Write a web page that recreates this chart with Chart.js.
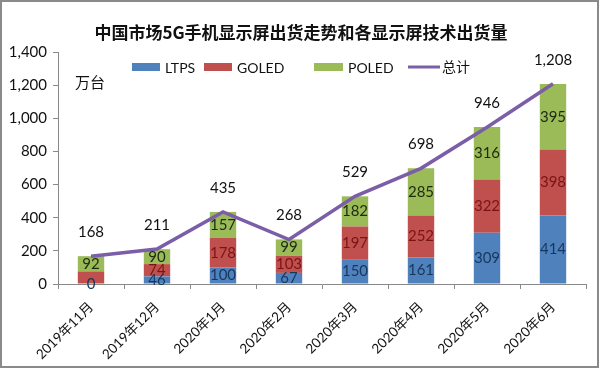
<!DOCTYPE html>
<html>
<head>
<meta charset="utf-8">
<script src="https://cdn.jsdelivr.net/npm/chart.js@4/dist/chart.umd.min.js"></script>
<style>
html,body{margin:0;padding:0;background:#fff;}
#wrap{width:600px;height:369px;position:relative;}
</style>
</head>
<body>
<div id="wrap"><canvas id="c" width="600" height="369"></canvas></div>
<script>
const titleText = '中国市场5G手机显示屏出货走势和各显示屏技术出货量';
const unitText = '万台';
const categories = ['2019年11月','2019年12月','2020年1月','2020年2月','2020年3月','2020年4月','2020年5月','2020年6月'];
const ltps  = [0, 46, 100, 67, 150, 161, 309, 414];
const goled = [76, 74, 178, 103, 197, 252, 322, 398];
const poled = [92, 90, 157, 99, 182, 285, 316, 395];
const totals = [168, 211, 435, 268, 529, 698, 946, 1208];
const ltpsLabels  = ['0','46','100','67','150','161','309','414'];
const goledLabels = ['','74','178','103','197','252','322','398'];
const poledLabels = ['92','90','157','99','182','285','316','395'];
const totalLabels = ['168','211','435','268','529','698','946','1,208'];
const yTicks = [0,200,400,600,800,1000,1200,1400];

const NUMFONT = 'Lato, "Noto Sans CJK SC", sans-serif';
const CJKFONT = '"Noto Sans CJK SC", sans-serif';

const labelPlugin = {
  id: 'labels',
  beforeDraw(chart) {
    const ctx = chart.ctx;
    ctx.save();
    ctx.fillStyle = '#fff';
    ctx.fillRect(0, 0, chart.width, chart.height);
    ctx.restore();
  },
  afterDatasetsDraw(chart) {
    const ctx = chart.ctx;
    ctx.save();
    ctx.textAlign = 'center';
    ctx.textBaseline = 'middle';
    ctx.font = '15px ' + NUMFONT;
    const segLabels = [ltpsLabels, goledLabels, poledLabels];
    const segColors = ['#17375e', '#7a1414', '#1e2a10'];
    for (let d = 0; d < 3; d++) {
      const meta = chart.getDatasetMeta(d);
      meta.data.forEach((bar, i) => {
        const txt = segLabels[d][i];
        if (!txt) return;
        const yc = (bar.y + bar.base) / 2;
        ctx.fillStyle = segColors[d];
        ctx.fillText(txt, bar.x, yc);
      });
    }
    const lm = chart.getDatasetMeta(3);
    ctx.fillStyle = '#111';
    lm.data.forEach((pt, i) => {
      ctx.fillText(totalLabels[i], pt.x, pt.y - 24);
    });

    // title
    ctx.font = 'bold 17px ' + CJKFONT;
    ctx.fillStyle = '#111';
    ctx.fillText(titleText, 301, 33);
    // unit
    ctx.font = '15px ' + CJKFONT;
    ctx.textAlign = 'left';
    ctx.fillText(unitText, 75, 82);

    // legend
    const items = [
      {x: 132, w: 28, ds: 0},
      {x: 204, w: 28, ds: 1},
      {x: 314, w: 29, ds: 2},
    ];
    ctx.font = '14px ' + NUMFONT;
    items.forEach(it => {
      const ds = chart.data.datasets[it.ds];
      ctx.fillStyle = ds.backgroundColor;
      ctx.fillRect(it.x, 63, it.w, 8);
      ctx.fillStyle = '#111';
      ctx.fillText(ds.label, it.x + it.w + 5, 68);
    });
    const lds = chart.data.datasets[3];
    ctx.strokeStyle = lds.borderColor;
    ctx.lineWidth = 3;
    ctx.beginPath();
    ctx.moveTo(408, 67);
    ctx.lineTo(440, 67);
    ctx.stroke();
    ctx.font = '14px ' + CJKFONT;
    ctx.fillStyle = '#111';
    ctx.fillText(lds.label, 442, 67);

    // frame
    ctx.strokeStyle = '#8a8a8a';
    ctx.lineWidth = 2;
    ctx.strokeRect(1, 1, 597, 366);
    ctx.restore();
  }
};

new Chart(document.getElementById('c'), {
  data: {
    labels: categories,
    datasets: [
      {type: 'bar', label: 'LTPS', data: ltps, backgroundColor: '#4f81bd', stack: 's', order: 2},
      {type: 'bar', label: 'GOLED', data: goled, backgroundColor: '#c0504d', stack: 's', order: 2},
      {type: 'bar', label: 'POLED', data: poled, backgroundColor: '#9bbb59', stack: 's', order: 2},
      {type: 'line', label: '总计', data: totals, borderColor: '#7b5ea7', borderWidth: 3.5,
       pointRadius: 0, tension: 0, stack: 'line', order: 1, fill: false}
    ]
  },
  options: {
    responsive: false,
    animation: false,
    devicePixelRatio: 1,
    layout: {padding: {top: 52, right: 14, left: 0, bottom: 0}},
    plugins: {legend: {display: false}, title: {display: false}, tooltip: {enabled: false}},
    datasets: {bar: {barPercentage: 0.4, categoryPercentage: 1}},
    scales: {
      x: {
        stacked: true,
        grid: {display: true, drawOnChartArea: false, drawTicks: true, tickLength: 5, color: '#888', offset: true},
        border: {display: true, color: '#888', width: 1},
        ticks: {maxRotation: 45, minRotation: 45, padding: 10, color: '#111', font: {size: 13.5, family: NUMFONT}},
        afterFit(scale) { scale.height = 85; }
      },
      y: {
        stacked: true,
        min: 0, max: 1400,
        grid: {display: true, drawOnChartArea: false, drawTicks: true, tickLength: 5, color: '#888'},
        border: {display: true, color: '#888', width: 1},
        ticks: {
          stepSize: 200, padding: 6, color: '#111', font: {size: 15, family: NUMFONT},
          callback: (v) => yTicks.includes(v) ? v.toLocaleString('en-US') : ''
        },
        afterFit(scale) { scale.width = 58; }
      }
    }
  },
  plugins: [labelPlugin]
});
</script>
</body>
</html>
